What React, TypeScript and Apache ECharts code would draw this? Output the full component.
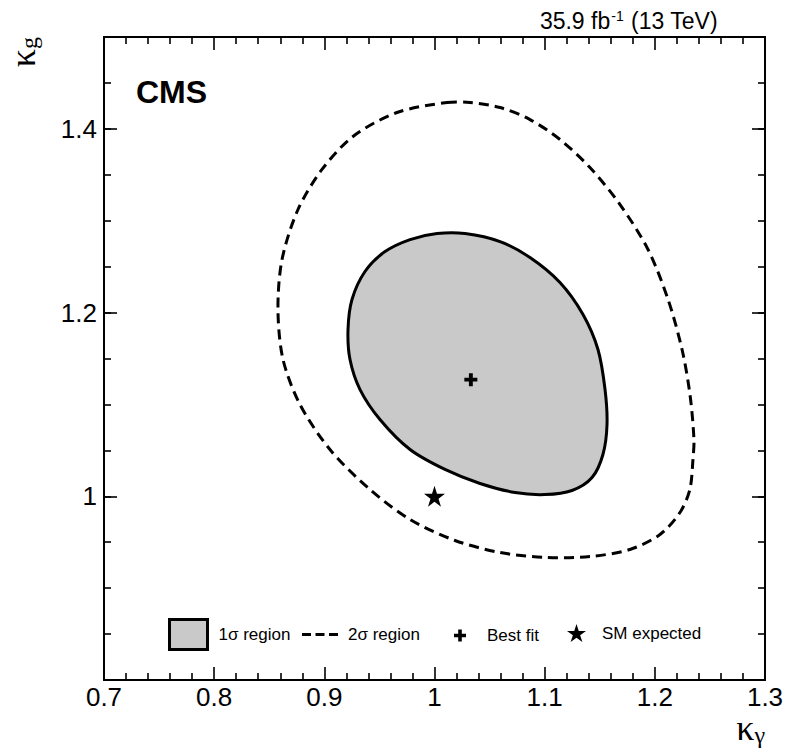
import React, { useEffect, useRef } from "react";
import * as echarts from "echarts";

// ---- data ----
const kappaGammaRange = [0.7, 1.3];
const kappaGRange = [0.8, 1.5];

const oneSigmaKappaGamma = [1.0277, 1.0595, 1.0867, 1.1139, 1.1348, 1.1484, 1.1548, 1.1566, 1.1529, 1.143, 1.1248, 1.1003, 1.0731, 1.0413, 1.0095, 0.9778, 0.9505, 0.9324, 0.9233, 0.9215, 0.9251, 0.9369, 0.9551, 0.9778, 1.0023];
const oneSigmaKappaG = [1.2861, 1.2773, 1.2599, 1.2327, 1.1979, 1.1598, 1.1162, 1.0781, 1.0455, 1.0204, 1.0063, 1.0019, 1.0041, 1.0139, 1.0292, 1.0509, 1.0836, 1.1162, 1.1489, 1.1816, 1.2142, 1.2447, 1.2664, 1.2795, 1.2861];

const twoSigmaKappaGamma = [1.0113, 1.0322, 1.0595, 1.0867, 1.1139, 1.1411, 1.1684, 1.1938, 1.2120, 1.2247, 1.2319, 1.2355, 1.2346, 1.2318, 1.2228, 1.2047, 1.1774, 1.1411, 1.1003, 1.0595, 1.0186, 0.9778, 0.9414, 0.9051, 0.8779, 0.8625, 0.8579, 0.8616, 0.8761, 0.8979, 0.926, 0.966];
const twoSigmaKappaG = [1.4287, 1.4287, 1.4232, 1.4101, 1.3884, 1.3579, 1.3176, 1.2687, 1.2143, 1.1598, 1.1108, 1.0618, 1.04, 1.0074, 0.9823, 0.9584, 0.9421, 0.9344, 0.9334, 0.9388, 0.9519, 0.9747, 1.0074, 1.0509, 1.0999, 1.1489, 1.2034, 1.2578, 1.3122, 1.3558, 1.3917, 1.4178];

const bestFit = [1.033, 1.127];
const smExpected = [1.0, 1.0];

const seriesNames = ["1σ region", "2σ region", "Best fit", "SM expected"];

// ---- marker shapes ----
const crossSymbol = "path://M35,0H65V35H100V65H65V100H35V65H0V35H35Z";
const dashIcon = "path://M0,0H9V3H0Z M13.5,0H22.5V3H13.5Z M27,0H36V3H27Z";
function makeStar(): string {
  const pts: string[] = [];
  for (let i = 0; i < 10; i++) {
    const r = i % 2 === 0 ? 50 : 19.1;
    const a = -Math.PI / 2 + (i * Math.PI) / 5;
    pts.push((50 + r * Math.cos(a)).toFixed(2) + "," + (50 + r * Math.sin(a)).toFixed(2));
  }
  return "path://M" + pts.join("L") + "Z";
}
const starSymbol = makeStar();

const FONT = "Liberation Sans, Arial, Helvetica, sans-serif";
const SERIF = "Liberation Serif, Times New Roman, serif";

export default function App() {
  const ref = useRef<HTMLDivElement>(null);

  useEffect(() => {
    document.body.style.margin = "0";
    if (!ref.current) return;
    const chart = echarts.init(ref.current, undefined, { renderer: "svg" });

    const axisLine = { show: true, lineStyle: { color: "#000", width: 2 } };
    const tickStyle = { color: "#000", width: 1.6 };

    const xCommon = {
      type: "value",
      min: kappaGammaRange[0],
      max: kappaGammaRange[1],
      interval: 0.1,
      axisLine,
      axisTick: { show: true, inside: true, length: 13, lineStyle: tickStyle },
      minorTick: { show: true, splitNumber: 5, length: 7, lineStyle: tickStyle },
      splitLine: { show: false },
      minorSplitLine: { show: false },
    };

    const yMajor = {
      type: "value",
      min: kappaGRange[0],
      max: kappaGRange[1],
      interval: 0.2,
      axisLine,
      axisTick: { show: true, inside: true, length: 13, lineStyle: tickStyle },
      splitLine: { show: false },
    };
    const yMinor = {
      type: "value",
      min: kappaGRange[0],
      max: kappaGRange[1],
      interval: 0.05,
      axisLine,
      axisTick: { show: true, inside: true, length: 7, lineStyle: tickStyle },
      axisLabel: { show: false },
      splitLine: { show: false },
    };

    const oneSigmaData = oneSigmaKappaGamma.map((x, i) => [x, oneSigmaKappaG[i]]);
    const twoSigmaData = twoSigmaKappaGamma.map((x, i) => [x, twoSigmaKappaG[i]]);

    const contour = (pts: number[][], style: any) => (params: any, api: any) => {
      if (params.dataIndex !== 0) return null;
      return {
        type: "polygon",
        shape: { points: pts.map((p) => api.coord(p)), smooth: 0.3 },
        style,
      };
    };

    const option: any = {
      animation: false,
      backgroundColor: "#fff",
      grid: { left: 104, right: 21, top: 37, bottom: 69, outerBoundsMode: "none", containLabel: false },
      title: [
        {
          text: "{a|35.9 fb}{s|-1}{a| (13 TeV)}",
          right: 68,
          top: 6,
          padding: 0,
          textStyle: {
            fontWeight: "normal",
            rich: {
              a: { fontSize: 23, fontWeight: "normal", fontFamily: FONT, color: "#000", lineHeight: 26, verticalAlign: "bottom" },
              s: { fontSize: 14, fontWeight: "normal", fontFamily: FONT, color: "#000", lineHeight: 14, verticalAlign: "bottom", padding: [0, 1, 9, 1] },
            },
          },
        },
        {
          text: "CMS",
          left: 136,
          top: 76,
          padding: 0,
          textStyle: { fontSize: 32, fontWeight: "bold", fontFamily: FONT, color: "#000" },
        },
      ],
      graphic: [
        {
          type: "text",
          x: 765,
          y: 710,
          style: {
            text: "{k|κ}{g|γ}",
            align: "right",
            verticalAlign: "top",
            rich: {
              k: { fontSize: 36, fontFamily: SERIF, color: "#000", lineHeight: 26, verticalAlign: "top" },
              g: { fontSize: 24, fontFamily: SERIF, color: "#000", lineHeight: 20, verticalAlign: "top", padding: [13, 0, 0, 0] },
            },
          },
        },
      ],
      legend: [
        {
          data: [{ name: seriesNames[0], icon: "rect", itemStyle: { color: "#c9c9c9", borderColor: "#000", borderWidth: 3 } }],
          left: 168,
          top: 618,
          padding: 0,
          itemWidth: 38,
          itemHeight: 30,
          selectedMode: false,
          textStyle: { fontSize: 17, fontFamily: FONT, color: "#000", padding: [0, 0, 0, 6] },
        },
        {
          data: [{ name: seriesNames[1], icon: dashIcon, itemStyle: { color: "#000", borderWidth: 0 } }],
          left: 302,
          top: 626,
          padding: 0,
          itemWidth: 36,
          itemHeight: 14,
          selectedMode: false,
          textStyle: { fontSize: 17, fontFamily: FONT, color: "#000", padding: [0, 0, 0, 5] },
        },
        {
          data: [{ name: seriesNames[2], icon: crossSymbol, itemStyle: { color: "#000", opacity: 1 } }],
          left: 454,
          top: 627,
          padding: 0,
          itemWidth: 12,
          itemHeight: 12,
          selectedMode: false,
          textStyle: { fontSize: 17, fontFamily: FONT, color: "#000", padding: [0, 0, 0, 16] },
        },
        {
          data: [{ name: seriesNames[3], icon: starSymbol, itemStyle: { color: "#000", opacity: 1 } }],
          left: 567,
          top: 624,
          padding: 0,
          itemWidth: 19,
          itemHeight: 19,
          selectedMode: false,
          textStyle: { fontSize: 17, fontFamily: FONT, color: "#000", padding: [0, 0, 0, 11] },
        },
      ],
      xAxis: [
        {
          ...xCommon,
          position: "bottom",
          axisLabel: { show: true, fontSize: 26, lineHeight: 20, fontFamily: FONT, color: "#000", margin: 7 },
        },
        {
          ...xCommon,
          position: "top",
          axisLabel: { show: false },
        },
      ],
      yAxis: [
        {
          ...yMajor,
          position: "left",
          axisLabel: { show: true, fontSize: 26, fontFamily: FONT, color: "#000", margin: 7, showMinLabel: false, showMaxLabel: false },
          name: "{k|κ}{g|g}",
          nameLocation: "end",
          nameGap: 0,
          nameRotate: 90,
          nameTextStyle: {
            align: "right",
            verticalAlign: "bottom",
            padding: [0, 0, 63, 0],
            rich: {
              k: { fontSize: 36, fontFamily: SERIF, color: "#000", lineHeight: 36, verticalAlign: "top" },
              g: { fontSize: 24, fontFamily: SERIF, color: "#000", lineHeight: 24, verticalAlign: "top", padding: [12, 0, 0, 0] },
            },
          },
        },
        { ...yMinor, position: "left" },
        { ...yMajor, position: "right", axisLabel: { show: false } },
        { ...yMinor, position: "right" },
      ],
      series: [
        {
          name: seriesNames[0],
          type: "custom",
          xAxisIndex: 0,
          yAxisIndex: 0,
          clip: true,
          z: 2,
          itemStyle: { color: "#c9c9c9", borderColor: "#000", borderWidth: 3 },
          data: oneSigmaData,
          renderItem: contour(oneSigmaData, { fill: "#c9c9c9", stroke: "#000", lineWidth: 3 }),
        },
        {
          name: seriesNames[1],
          type: "custom",
          xAxisIndex: 0,
          yAxisIndex: 0,
          clip: true,
          z: 3,
          itemStyle: { color: "#000" },
          data: twoSigmaData,
          renderItem: contour(twoSigmaData, { fill: "none", stroke: "#000", lineWidth: 3, lineDash: [10, 6] }),
        },
        {
          name: seriesNames[2],
          type: "scatter",
          xAxisIndex: 0,
          yAxisIndex: 0,
          z: 5,
          symbol: crossSymbol,
          symbolSize: 13,
          itemStyle: { color: "#000", opacity: 1 },
          data: [bestFit],
        },
        {
          name: seriesNames[3],
          type: "scatter",
          xAxisIndex: 0,
          yAxisIndex: 0,
          z: 5,
          symbol: starSymbol,
          symbolSize: 21,
          itemStyle: { color: "#000", opacity: 1 },
          data: [smExpected],
        },
      ],
    };

    chart.setOption(option);
    return () => chart.dispose();
  }, []);

  return <div ref={ref} style={{ width: 786, height: 749 }} />;
}
